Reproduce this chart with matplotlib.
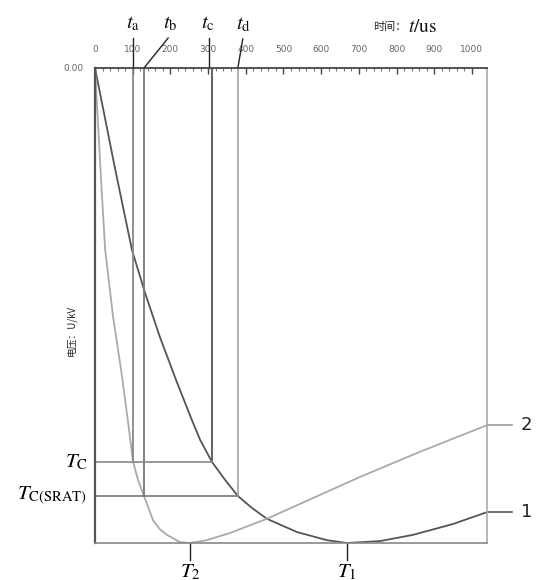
import numpy as np
import matplotlib
matplotlib.use('Agg')
import matplotlib.pyplot as plt

plt.rcParams['mathtext.fontset'] = 'stix'
plt.rcParams['font.family'] = ['DejaVu Sans']

# Curve 1 (dark) - time in us, voltage in relative units (0 at top)
t1 = [0, 53, 98, 133, 172, 218, 260, 279, 310, 345, 379, 416, 456, 536, 615,
      668, 756, 843, 950, 1040]
u1 = [0, -21.1, -38.3, -47.4, -56.6, -66.3, -74.7, -78.3, -82.9, -86.7, -90.1,
      -92.6, -94.9, -97.7, -99.4, -100, -99.6, -98.3, -96.0, -93.5]

# Curve 2 (light)
t2 = [0, 16, 27, 48, 72, 88, 101, 114, 130, 154, 172, 191, 225, 252, 297, 358,
      456, 703, 862, 1040]
u2 = [0, -23.4, -38.3, -52.4, -65.1, -74.7, -82.9, -86.7, -90.1, -95.2, -97.1,
      -98.3, -99.8, -100, -99.4, -97.9, -94.9, -86.1, -80.8, -75.2]

# characteristic levels and times
Tc = -82.9
Tc_srat = -90.1
ta, tb, tc, td = 101, 130, 310, 379
T2_t, T1_t = 252, 668
xmax = 1040
ymin = -100

fig = plt.figure(figsize=(5.41, 5.80), dpi=100)
ax = fig.add_axes([0.1756, 0.0638, 0.7246, 0.819])

ax.plot(t1, u1, color='#555555', lw=1.3)
ax.plot(t2, u2, color='#aaaaaa', lw=1.3)

# vertical lines
ax.plot([ta, ta], [0, Tc], color='#888888', lw=1.3)
ax.plot([tb, tb], [0, Tc_srat], color='#777777', lw=1.3)
ax.plot([tc, tc], [0, Tc], color='#666666', lw=1.5)
ax.plot([td, td], [0, Tc_srat], color='#aaaaaa', lw=1.3)
# horizontal lines
ax.plot([0, tc], [Tc, Tc], color='#888888', lw=1.2)
ax.plot([0, td], [Tc_srat, Tc_srat], color='#777777', lw=1.2)

ax.set_xlim(0, xmax)
ax.set_ylim(ymin, 0)

ax.xaxis.tick_top()
ax.set_xticks(np.arange(0, 1001, 100))
ax.set_xticks(np.arange(0, 1001, 20), minor=True)
ax.tick_params(axis='x', which='major', direction='in', length=4, width=1,
               color='#444444', labelsize=6.5, labelcolor='#666666', pad=10)
ax.tick_params(axis='x', which='minor', direction='in', length=2.5, width=0.8,
               color='#777777')
ax.set_yticks([0])
ax.set_yticklabels(['0.00'])
ax.tick_params(axis='y', length=0, labelsize=6.5, labelcolor='#666666', pad=8)

ax.spines['left'].set_color('#555555')
ax.spines['left'].set_linewidth(1.6)
ax.spines['top'].set_color('#444444')
ax.spines['top'].set_linewidth(1.3)
ax.spines['bottom'].set_color('#888888')
ax.spines['bottom'].set_linewidth(1.2)
ax.spines['right'].set_color('#aaaaaa')
ax.spines['right'].set_linewidth(1.2)

# leader lines and labels above the axis
lead = dict(color='#222222', lw=1.0, clip_on=False)
ax.plot([ta, ta], [0, 6.3], **lead)
ax.plot([tb, 194], [0, 6.3], **lead)
ax.plot([tc - 8, tc - 8], [0, 6.3], **lead)
ax.plot([td, 392], [0, 6.1], **lead)
tl = dict(fontsize=15, ha='center', va='bottom', color='#111111')
ax.text(ta, 7.3, r'$t_{\rm a}$', **tl)
ax.text(199, 7.3, r'$t_{\rm b}$', **tl)
ax.text(300, 7.3, r'$t_{\rm c}$', **tl)
ax.text(393, 7.1, r'$t_{\rm d}$', **tl)

# axis titles
fig.text(407 / 541, 1 - 27 / 580, '时间：', family=['Noto Sans CJK SC', 'DejaVu Sans'],
         fontsize=8, ha='right', va='center', color='#222222')
fig.text(408 / 541, 1 - 27 / 580, r'$t\mathrm{/us}$', fontsize=14,
         ha='left', va='center', color='#111111')
fig.text(72 / 541, 1 - 330 / 580, '电压：U/kV', family=['Noto Sans CJK SC', 'DejaVu Sans'],
         fontsize=7, rotation=90, ha='center', va='center', color='#222222')

# level labels on the left
ax.text(-18, Tc, r'$T_{\rm C}$', fontsize=15, ha='right', va='center', clip_on=False)
ax.text(-22, Tc_srat, r'$T_{\rm C(SRAT)}$', fontsize=15, ha='right', va='center',
        clip_on=False)

# minimum markers below
for tt, lab in [(T2_t, r'$T_2$'), (T1_t, r'$T_1$')]:
    ax.plot([tt, tt], [ymin, ymin - 3.6], color='#222222', lw=1.0, clip_on=False)
    ax.text(tt, ymin - 3.9, lab, fontsize=15, ha='center', va='top', clip_on=False)

# curve labels on the right
ax.plot([xmax, 1106], [u2[-1], u2[-1]], color='#999999', lw=1.2, clip_on=False)
ax.plot([xmax, 1106], [u1[-1], u1[-1]], color='#555555', lw=1.2, clip_on=False)
ax.text(1130, u2[-1], '2', fontsize=13, ha='left', va='center', color='#222222',
        clip_on=False)
ax.text(1130, u1[-1], '1', fontsize=13, ha='left', va='center', color='#222222',
        clip_on=False)

fig.savefig('out.png', dpi=100)
